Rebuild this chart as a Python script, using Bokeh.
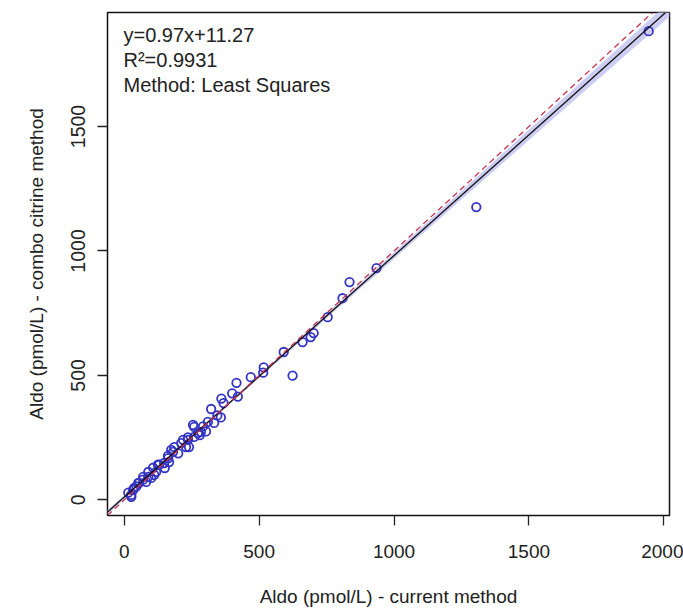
import numpy as np
from bokeh.plotting import figure
from bokeh.models import Range1d, Slope, Label, FixedTicker, ColumnDataSource
from bokeh.embed import file_html
from bokeh.resources import INLINE

# ---- data ----
current_method = [1944, 1305, 935, 835, 809, 754, 702, 691, 661, 591, 624, 517, 515, 469,
                  416, 421, 400, 360, 368, 322, 358, 310, 333, 292, 259, 255, 284, 273,
                  303, 259, 236, 236, 218, 211, 229, 240, 185, 174, 181, 162, 163, 148,
                  166, 125, 129, 107, 89, 118, 111, 70, 89, 81, 70, 55, 52, 37, 33, 15,
                  26, 26, 200, 150, 100, 45, 280, 345]
combo_citrine = [1883, 1176, 931, 875, 810, 734, 670, 654, 634, 594, 499, 532, 511, 493,
                 470, 415, 428, 407, 389, 365, 331, 313, 309, 295, 293, 301, 273, 268,
                 275, 253, 251, 241, 241, 228, 212, 212, 212, 201, 193, 177, 168, 148,
                 152, 141, 141, 129, 112, 112, 100, 92, 92, 72, 81, 68, 68, 48, 40, 29,
                 20, 12, 187, 128, 88, 54, 260, 339]
fit_slope = 0.97
fit_intercept = 11.27
r_squared = "0.9931"
method_name = "Least Squares"
x_ticks = [0, 500, 1000, 1500, 2000]
y_ticks = [0, 500, 1000, 1500]

x = np.array(current_method, dtype=float)
y = np.array(combo_citrine, dtype=float)

def r_range(v):
    lo, hi = float(v.min()), float(v.max())
    pad = 0.04 * (hi - lo)
    return lo - pad, hi + pad

x0, x1 = r_range(x)
y0, y1 = r_range(y)

# confidence band of the fit
n = len(x)
resid = y - (fit_slope * x + fit_intercept)
s = np.sqrt(np.sum(resid ** 2) / (n - 2))
xbar = x.mean()
sxx = np.sum((x - xbar) ** 2)
gx = np.linspace(x0, x1, 200)
gy = fit_slope * gx + fit_intercept
half = 1.6 * s * np.sqrt(1.0 / n + (gx - xbar) ** 2 / sxx)
band = ColumnDataSource(dict(x=gx, lo=gy - half, hi=gy + half))

FONT = "Liberation Sans"

p = figure(width=683, height=613, output_backend="svg", toolbar_location=None,
           x_range=Range1d(x0, x1), y_range=Range1d(y0, y1),
           min_border_left=107, min_border_right=14, min_border_top=12, min_border_bottom=98,
           x_axis_label="Aldo (pmol/L) - current method",
           y_axis_label="Aldo (pmol/L) - combo citrine method")
p.background_fill_color = "white"
p.border_fill_color = "white"
p.grid.visible = False
p.outline_line_color = "#111111"
p.outline_line_width = 1.5

p.varea(x="x", y1="lo", y2="hi", source=band, fill_color="#c8c8f2", fill_alpha=0.9)
p.add_layout(Slope(gradient=fit_slope, y_intercept=fit_intercept,
                   line_color="#111111", line_width=1.3))
p.add_layout(Slope(gradient=1.0, y_intercept=0.0,
                   line_color="#c8324e", line_width=1.3, line_dash="6 4"))
p.scatter(x, y, marker="circle", size=8.5, fill_color=None,
          line_color="#3434c4", line_width=1.8)

for ax, ticks in ((p.xaxis, x_ticks), (p.yaxis, y_ticks)):
    ax.ticker = FixedTicker(ticks=ticks)
    ax.axis_line_color = None
    ax.major_tick_out = 10
    ax.major_tick_in = 0
    ax.minor_tick_line_color = None
    ax.major_tick_line_color = "#222222"
    ax.major_tick_line_width = 1.3
    ax.major_label_text_font = FONT
    ax.major_label_text_color = "#222222"
    ax.axis_label_text_font = FONT
    ax.axis_label_text_font_style = "normal"
    ax.axis_label_text_color = "#222222"
    ax.axis_label_text_font_size = "19px"

p.xaxis.major_label_text_font_size = "19px"
p.xaxis.major_label_standoff = 19
p.xaxis.axis_label_standoff = 25
p.yaxis.major_label_text_font_size = "19.5px"
p.yaxis.major_label_orientation = "vertical"
p.yaxis.major_label_standoff = 12
p.yaxis.axis_label_standoff = 22

lines = ["y=%.2fx+%.2f" % (fit_slope, fit_intercept),
         "R\u00b2=" + r_squared,
         "Method: " + method_name]
for i, t in enumerate(lines):
    p.add_layout(Label(x=16, y=492 - 25 * i, x_units="screen", y_units="screen",
                       text=t, text_font=FONT, text_font_size="20px",
                       text_color="#222222", text_baseline="top"))

open("out.html", "w").write(file_html(p, INLINE))
